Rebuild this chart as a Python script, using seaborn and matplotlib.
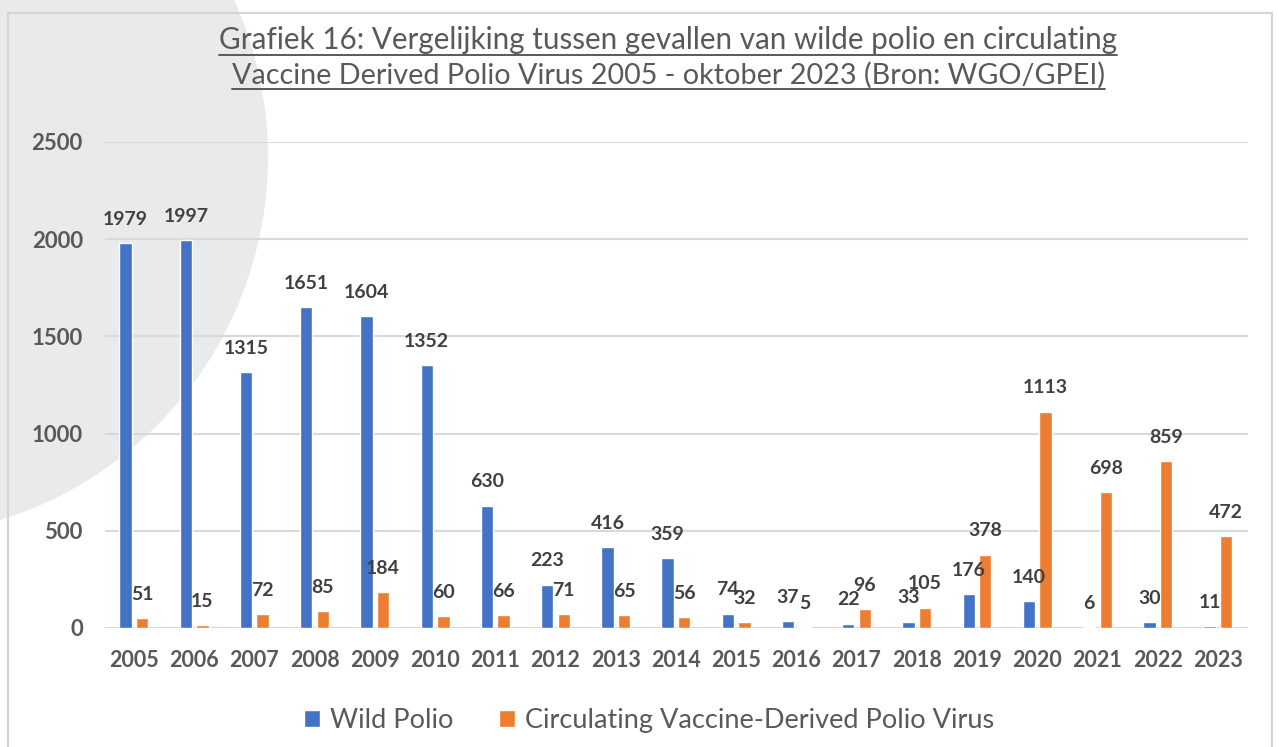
import pandas as pd
import numpy as np
import matplotlib.pyplot as plt
import seaborn as sns
from matplotlib.patches import Circle, Rectangle
from matplotlib.lines import Line2D

# --- data ---
years = [str(y) for y in range(2005, 2024)]
wild_polio = [1979, 1997, 1315, 1651, 1604, 1352, 630, 223, 416, 359,
              74, 37, 22, 33, 176, 140, 6, 30, 11]
cvdpv = [51, 15, 72, 85, 184, 60, 66, 71, 65, 56,
         32, 5, 96, 105, 378, 1113, 698, 859, 472]
series_names = ["Wild Polio", "Circulating Vaccine-Derived Polio Virus"]
title_lines = ["Grafiek 16: Vergelijking tussen gevallen van wilde polio en circulating",
               "Vaccine Derived Polio Virus 2005 - oktober 2023 (Bron: WGO/GPEI)"]

df = pd.DataFrame({
    "Jaar": years * 2,
    "Serie": [series_names[0]] * len(years) + [series_names[1]] * len(years),
    "Gevallen": wild_polio + cvdpv,
})

sns.set_theme(style="white")
plt.rcParams["font.family"] = ["Lato", "DejaVu Sans"]
text_grey = "#595959"

fig = plt.figure(figsize=(12.79, 7.47), dpi=100)
fig.patch.set_facecolor("white")

# decorative grey circle behind the chart + light frame
fig.patches.append(Circle((-1.12, 5.90), 3.80, transform=fig.dpi_scale_trans,
                          facecolor="#e9eaec", edgecolor="none", zorder=-5))
fig.patches.append(Rectangle((8 / 1279, -0.1), 1264 / 1279, 0.1 + (747 - 13) / 747,
                             transform=fig.transFigure, facecolor="none",
                             edgecolor="#d4d4d4", lw=1.5, zorder=-4))

ax = fig.add_axes([105 / 1279, 119 / 747, 1143 / 1279, 486 / 747])
ax.set_facecolor("none")

sns.barplot(data=df, x="Jaar", y="Gevallen", hue="Serie", ax=ax,
            palette=["#4472C4", "#ED7D31"], width=0.55, gap=0.25,
            saturation=1, legend=True)

for cont, vals in zip(ax.containers, [wild_polio, cvdpv]):
    ax.bar_label(cont, labels=[str(v) for v in vals], padding=11,
                 fontsize=14, fontweight="bold", color="#404040")

ax.set_ylim(0, 2500)
ax.set_xlim(-0.48, 18.5)
ax.set_yticks([0, 500, 1000, 1500, 2000, 2500])
ax.yaxis.grid(True, color="#d9d9d9", lw=1.5)
ax.set_axisbelow(True)
for s in ax.spines.values():
    s.set_visible(False)
ax.axhline(0, color="#d9d9d9", lw=1.5, zorder=0.5)
ax.set_xlabel("")
ax.set_ylabel("")
ax.tick_params(axis="y", length=0, pad=16, labelsize=16, labelcolor=text_grey)
ax.tick_params(axis="x", length=0, pad=16, labelsize=15.5, labelcolor=text_grey)
for lab in ax.get_xticklabels() + ax.get_yticklabels():
    lab.set_fontweight("bold")

leg = ax.legend(loc="upper center", bbox_to_anchor=(0.476, -0.115), ncol=2,
                frameon=False, fontsize=19.5, handlelength=0.6, handleheight=0.6,
                columnspacing=1.7, handletextpad=0.35)
for t in leg.get_texts():
    t.set_color(text_grey)

# title, two underlined lines, sized to the reference widths
t1 = fig.text(668 / 1279, 1 - 40 / 747, title_lines[0], ha="center", va="center",
              fontsize=20, color=text_grey)
t2 = fig.text(668 / 1279, 1 - 75 / 747, title_lines[1], ha="center", va="center",
              fontsize=20, color=text_grey)

fig.canvas.draw()
r = fig.canvas.get_renderer()
for t, target in ((t1, 899), (t2, 874)):
    t.set_fontsize(20 * target / t.get_window_extent(r).width)
fig.canvas.draw()
for t in (t1, t2):
    bb = t.get_window_extent(r).transformed(fig.transFigure.inverted())
    yline = bb.y0 - 1.0 / 747
    fig.lines.append(Line2D([bb.x0, bb.x1], [yline, yline], transform=fig.transFigure,
                            color=text_grey, lw=1.4))

fig.savefig("out.png", dpi=100)
